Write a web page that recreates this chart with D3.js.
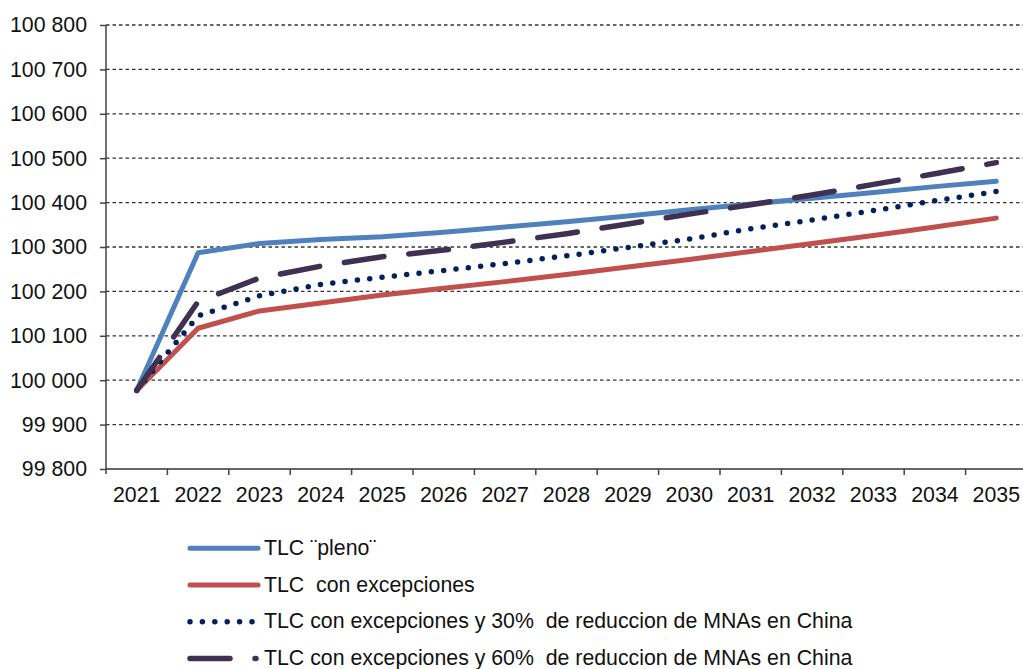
<!DOCTYPE html>
<html lang="es">
<head>
<meta charset="utf-8">
<script src="https://d3js.org/d3.v7.min.js"></script>
<style>
  body { margin: 0; background: #fff; }
  text { font-family: "Liberation Sans", Arial, sans-serif; fill: #111; }
</style>
</head>
<body>
<div id="my_dataviz"></div>

<script>

// years on the x axis
var years = ["2021", "2022", "2023", "2024", "2025", "2026", "2027", "2028",
             "2029", "2030", "2031", "2032", "2033", "2034", "2035"];

// y ticks
var yTicks = [99800, 99900, 100000, 100100, 100200, 100300, 100400, 100500, 100600, 100700, 100800];

// series names (legend)
var names = ["TLC ¨pleno¨",
             "TLC  con excepciones",
             "TLC con excepciones y 30%  de reduccion de MNAs en China",
             "TLC con excepciones y 60%  de reduccion de MNAs en China"];

// values
var pleno    = [99977, 100287, 100308, 100317, 100323, 100333, 100345, 100357, 100370, 100384, 100397, 100410, 100423, 100436, 100448];
var excep    = [99977, 100117, 100156, 100174, 100192, 100207, 100222, 100238, 100255, 100272, 100290, 100308, 100326, 100345, 100365];
var excep30  = [99977, 100145, 100190, 100216, 100232, 100247, 100263, 100280, 100299, 100318, 100341, 100361, 100382, 100404, 100425];
var excep60  = [99977, 100177, 100230, 100257, 100278, 100293, 100311, 100330, 100352, 100374, 100395, 100417, 100441, 100465, 100490];

var series = [pleno, excep, excep30, excep60];
var colors = ["#4F81BD", "#C0504D", "#002060", "#3F3151"];
var dashes = [null, null, "0,12.4", "40,25"];
var widths = [5, 5, 5.5, 5.5];

var svg = d3.select("#my_dataviz")
  .append("svg")
    .attr("width", 1023)
    .attr("height", 669);

var x = d3.scaleBand()
  .range([106, 1027])
  .domain(years);

var y = d3.scaleLinear()
  .domain([99800, 100800])
  .range([469, 25]);

var fmt = d3.formatLocale({ decimal: ",", thousands: " ", grouping: [3], currency: ["", ""] }).format(",d");

// grid lines
svg.append("g")
  .selectAll("line")
  .data(yTicks.slice(1))
  .enter()
  .append("line")
    .attr("x1", 106)
    .attr("x2", 1023)
    .attr("y1", function(d) { return y(d); })
    .attr("y2", function(d) { return y(d); })
    .attr("stroke", "#333")
    .attr("stroke-width", 1.3)
    .attr("stroke-dasharray", "3.5,3");

// Y axis
var yAxis = svg.append("g")
  .attr("transform", "translate(106,0)")
  .call(d3.axisLeft(y).tickValues(yTicks).tickFormat(fmt).tickSize(6).tickPadding(13));
yAxis.select(".domain").attr("stroke", "#444").attr("stroke-width", 1.5)
  .attr("d", "M0," + y(100800) + "V474");
yAxis.selectAll(".tick line").attr("stroke", "#444").attr("stroke-width", 1.5);
yAxis.selectAll("text").style("font-size", "21.3px").attr("fill", "#111");

// X axis
var xAxis = svg.append("g")
  .attr("transform", "translate(0,469)")
  .call(d3.axisBottom(x).tickSize(0).tickPadding(18));
xAxis.select(".domain").attr("stroke", "#333").attr("stroke-width", 1.5)
  .attr("d", "M106,0H1023");
xAxis.selectAll("text").style("font-size", "21.3px").attr("fill", "#111");

// ticks between categories
svg.append("g")
  .selectAll("line")
  .data(years.slice(1))
  .enter()
  .append("line")
    .attr("x1", function(d) { return x(d); })
    .attr("x2", function(d) { return x(d); })
    .attr("y1", 469)
    .attr("y2", 475)
    .attr("stroke", "#444")
    .attr("stroke-width", 1.5);

// lines
var line = d3.line()
  .x(function(d, i) { return x(years[i]) + x.bandwidth() / 2; })
  .y(function(d) { return y(d); });

series.forEach(function(s, k) {
  svg.append("path")
    .datum(s)
    .attr("d", line)
    .attr("fill", "none")
    .attr("stroke", colors[k])
    .attr("stroke-width", widths[k])
    .attr("stroke-linecap", "round")
    .attr("stroke-linejoin", "round")
    .attr("stroke-dasharray", dashes[k]);
});

// legend (last row is cut by the bottom edge, as in the original)
var legend = svg.append("g");
names.forEach(function(n, k) {
  var ly = 548.3 + k * 36.7;
  legend.append("line")
    .attr("x1", 190)
    .attr("x2", k == 2 ? 254 : (k == 3 ? 256 : 258))
    .attr("y1", ly)
    .attr("y2", ly)
    .attr("stroke", colors[k])
    .attr("stroke-width", widths[k])
    .attr("stroke-linecap", "round")
    .attr("stroke-dasharray", dashes[k]);
  legend.append("text")
    .attr("x", 264)
    .attr("y", ly + 6.7)
    .attr("xml:space", "preserve")
    .style("white-space", "pre")
    .style("font-size", "21.3px")
    .text(n);
});

</script>
</body>
</html>
